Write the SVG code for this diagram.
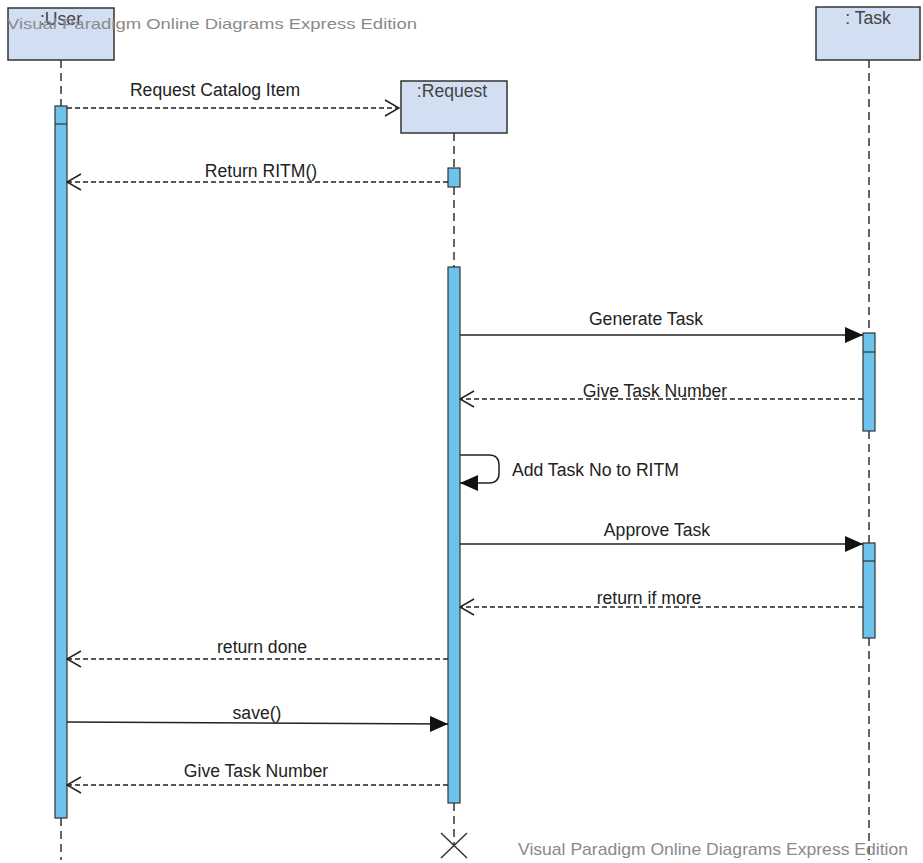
<svg xmlns="http://www.w3.org/2000/svg" width="923" height="863" viewBox="0 0 923 863">
<style>
.box{fill:#D2DFF3;stroke:#333;stroke-width:1.5}
.act{fill:#6EC3EC;stroke:#333;stroke-width:1.2}
.life{stroke:#333;stroke-width:1.5;stroke-dasharray:8 5;fill:none}
.msg{stroke:#222;stroke-width:1.5;fill:none}
.ret{stroke:#222;stroke-width:1.5;fill:none;stroke-dasharray:5 3}
.lbl{font-family:"Liberation Sans",Arial,sans-serif;font-size:17.6px;fill:#222;text-anchor:middle}
.nl{font-family:"Liberation Sans",Arial,sans-serif;font-size:17.6px;fill:#444;text-anchor:middle}
.wm{font-family:"Liberation Sans",Arial,sans-serif;fill:#8a8a8a}
</style>
<defs>
<marker id="fill" markerUnits="userSpaceOnUse" viewBox="0 0 18 16" refX="18" refY="8" markerWidth="18" markerHeight="16" orient="auto"><path d="M0,0 L18,8 L0,16 z" fill="#111"/></marker>
<marker id="open" markerUnits="userSpaceOnUse" viewBox="0 0 16 18" refX="15" refY="9" markerWidth="16" markerHeight="18" orient="auto"><path d="M1,1 L15,9 L1,17" fill="none" stroke="#222" stroke-width="1.5"/></marker>
</defs>
<rect width="923" height="863" fill="#fff"/>

<g id="lifelines">
<line class="life" x1="61" y1="60" x2="61" y2="106"/>
<line class="life" x1="61" y1="818" x2="61" y2="860"/>
<line class="life" x1="454" y1="133" x2="454" y2="168"/>
<line class="life" x1="454" y1="187" x2="454" y2="267"/>
<line class="life" x1="454" y1="803" x2="454" y2="845"/>
<line class="life" x1="869" y1="60" x2="869" y2="333"/>
<line class="life" x1="869" y1="431" x2="869" y2="543"/>
<line class="life" x1="869" y1="638" x2="869" y2="860"/>
</g>

<g id="user">
<rect class="box" x="8" y="8" width="106" height="52"/>
<text class="nl" x="61" y="25">:User</text>
<rect class="act" x="55" y="106" width="12" height="712"/>
<line x1="55" y1="124" x2="67" y2="124" stroke="#333" stroke-width="1.2"/>
</g>

<g id="request">
<rect class="box" x="401" y="81" width="106" height="52"/>
<text class="nl" x="452" y="97">:Request</text>
<rect class="act" x="448" y="168" width="12" height="19"/>
<rect class="act" x="448" y="267" width="12" height="536"/>
<path d="M441,833 L467,858 M467,833 L441,858" stroke="#333" stroke-width="1.5" fill="none"/>
</g>

<g id="task">
<rect class="box" x="816" y="7" width="104" height="53"/>
<text class="nl" x="868" y="24">: Task</text>
<rect class="act" x="863" y="333" width="12" height="98"/>
<line x1="863" y1="352" x2="875" y2="352" stroke="#333" stroke-width="1.2"/>
<rect class="act" x="863" y="543" width="12" height="95"/>
<line x1="863" y1="561" x2="875" y2="561" stroke="#333" stroke-width="1.2"/>
</g>

<g id="connectors">
<line class="ret" x1="67" y1="108" x2="399" y2="108" marker-end="url(#open)"/>
<line class="ret" x1="448" y1="182" x2="67" y2="182" marker-end="url(#open)"/>
<line class="msg" x1="460" y1="335" x2="863" y2="335" marker-end="url(#fill)"/>
<line class="ret" x1="863" y1="399" x2="460" y2="399" marker-end="url(#open)"/>
<path class="msg" d="M460,455 L489,455 Q499,455 499,465 L499,473 Q499,483 489,483 L460,483" marker-end="url(#fill)"/>
<line class="msg" x1="460" y1="544" x2="863" y2="544" marker-end="url(#fill)"/>
<line class="ret" x1="863" y1="607" x2="460" y2="607" marker-end="url(#open)"/>
<line class="ret" x1="448" y1="659" x2="67" y2="659" marker-end="url(#open)"/>
<line class="msg" x1="67" y1="722" x2="448" y2="724" marker-end="url(#fill)"/>
<line class="ret" x1="448" y1="785" x2="67" y2="785" marker-end="url(#open)"/>
</g>

<g id="labels">
<text class="lbl" x="215" y="96">Request Catalog Item</text>
<text class="lbl" x="261" y="177">Return RITM()</text>
<text class="lbl" x="646" y="325">Generate Task</text>
<text class="lbl" x="655" y="397">Give Task Number</text>
<text class="lbl" x="512" y="476" style="text-anchor:start">Add Task No to RITM</text>
<text class="lbl" x="657" y="536">Approve Task</text>
<text class="lbl" x="649" y="604">return if more</text>
<text class="lbl" x="262" y="653">return done</text>
<text class="lbl" x="257" y="719">save()</text>
<text class="lbl" x="256" y="777">Give Task Number</text>
</g>

<g id="watermarks">
<text class="wm" x="7" y="29" font-size="15" textLength="410" lengthAdjust="spacingAndGlyphs">Visual Paradigm Online Diagrams Express Edition</text>
<text class="wm" x="518" y="855" font-size="17" textLength="390" lengthAdjust="spacingAndGlyphs">Visual Paradigm Online Diagrams Express Edition</text>
</g>
</svg>
